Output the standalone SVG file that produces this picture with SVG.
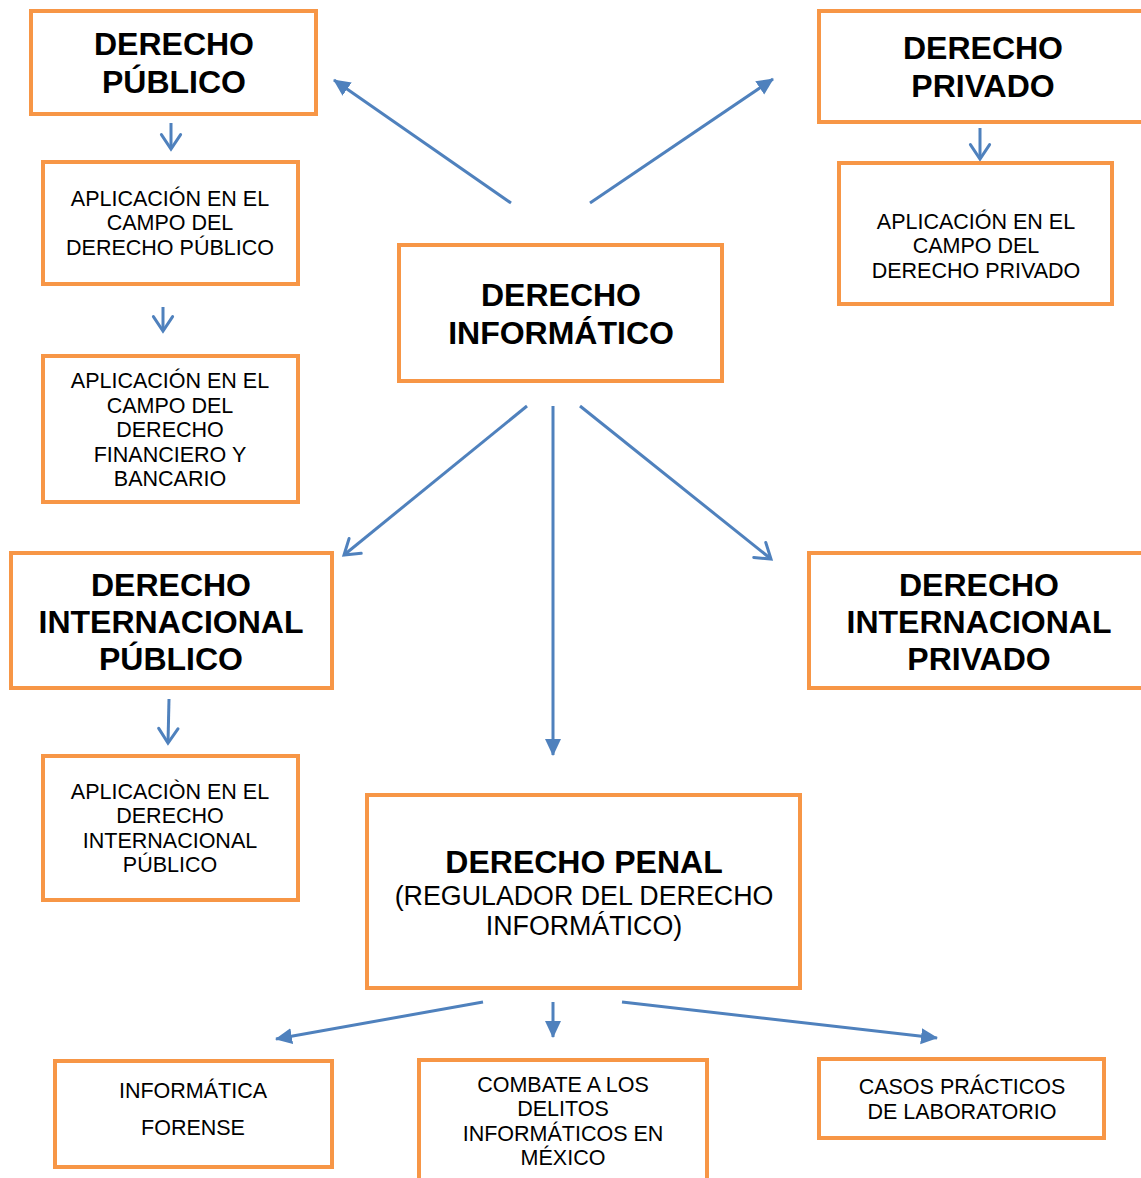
<svg xmlns="http://www.w3.org/2000/svg" width="1141" height="1178" viewBox="0 0 1141 1178">
<style>
.box{fill:#fff;stroke:#F79646;stroke-width:4}
.t{font-family:"Liberation Sans",Arial,sans-serif;text-anchor:middle;fill:#000}
.b{font-weight:bold;font-size:32px}
.s{font-size:21.5px}
.m{font-size:26.8px}
.c{fill:none;stroke:#4F81BD;stroke-width:3}
</style>
<defs>
<marker id="fa" markerUnits="userSpaceOnUse" markerWidth="20" markerHeight="20" refX="16" refY="8" orient="auto" viewBox="0 0 20 16">
<path d="M0,0 L17,8 L0,16 Z" fill="#4F81BD"/>
</marker>
<marker id="oa" markerUnits="userSpaceOnUse" markerWidth="24" markerHeight="24" refX="14" refY="10" orient="auto" viewBox="0 0 20 20">
<path d="M2,2 L14,10 L2,18" fill="none" stroke="#4F81BD" stroke-width="2.5" stroke-linecap="round"/>
</marker>
</defs>
<rect width="1141" height="1178" fill="#fff"/>
<g id="connectors">
<line class="c" x1="171" y1="123" x2="171" y2="149" marker-end="url(#oa)"/>
<line class="c" x1="163" y1="307" x2="163" y2="331" marker-end="url(#oa)"/>
<line class="c" x1="169" y1="699" x2="168" y2="743" marker-end="url(#oa)"/>
<line class="c" x1="980" y1="128" x2="980" y2="159" marker-end="url(#oa)"/>
<line class="c" x1="511" y1="203" x2="334" y2="80" marker-end="url(#fa)"/>
<line class="c" x1="590" y1="203" x2="773" y2="79" marker-end="url(#fa)"/>
<line class="c" x1="527" y1="406" x2="344" y2="555" marker-end="url(#oa)"/>
<line class="c" x1="553" y1="406" x2="553" y2="755" marker-end="url(#fa)"/>
<line class="c" x1="580" y1="406" x2="771" y2="559" marker-end="url(#oa)"/>
<line class="c" x1="483" y1="1002" x2="276" y2="1039" marker-end="url(#fa)"/>
<line class="c" x1="553" y1="1002" x2="553" y2="1037" marker-end="url(#fa)"/>
<line class="c" x1="622" y1="1002" x2="937" y2="1038" marker-end="url(#fa)"/>
</g>
<g id="derecho-publico">
<rect class="box" x="31" y="11" width="285" height="103"/>
<text class="t b" x="174" y="55">DERECHO</text>
<text class="t b" x="174" y="93">PÚBLICO</text>
</g>
<g id="aplicacion-publico">
<rect class="box" x="43" y="162" width="255" height="122"/>
<text class="t s" x="170" y="206">APLICACIÓN EN EL</text>
<text class="t s" x="170" y="230">CAMPO DEL</text>
<text class="t s" x="170" y="255">DERECHO PÚBLICO</text>
</g>
<g id="aplicacion-financiero">
<rect class="box" x="43" y="356" width="255" height="146"/>
<text class="t s" x="170" y="388">APLICACIÓN EN EL</text>
<text class="t s" x="170" y="413">CAMPO DEL</text>
<text class="t s" x="170" y="437">DERECHO</text>
<text class="t s" x="170" y="462">FINANCIERO Y</text>
<text class="t s" x="170" y="486">BANCARIO</text>
</g>
<g id="derecho-internacional-publico">
<rect class="box" x="11" y="553" width="321" height="135"/>
<text class="t b" x="171" y="596">DERECHO</text>
<text class="t b" x="171" y="633">INTERNACIONAL</text>
<text class="t b" x="171" y="670">PÚBLICO</text>
</g>
<g id="aplicacion-internacional">
<rect class="box" x="43" y="756" width="255" height="144"/>
<text class="t s" x="170" y="799">APLICACIÒN EN EL</text>
<text class="t s" x="170" y="823">DERECHO</text>
<text class="t s" x="170" y="848">INTERNACIONAL</text>
<text class="t s" x="170" y="872">PÚBLICO</text>
</g>
<g id="derecho-informatico">
<rect class="box" x="399" y="245" width="323" height="136"/>
<text class="t b" x="561" y="306">DERECHO</text>
<text class="t b" x="561" y="344">INFORMÁTICO</text>
</g>
<g id="derecho-privado">
<rect class="box" x="819" y="11" width="330" height="111"/>
<text class="t b" x="983" y="59">DERECHO</text>
<text class="t b" x="983" y="97">PRIVADO</text>
</g>
<g id="aplicacion-privado">
<rect class="box" x="839" y="163" width="273" height="141"/>
<text class="t s" x="976" y="229">APLICACIÓN EN EL</text>
<text class="t s" x="976" y="253">CAMPO DEL</text>
<text class="t s" x="976" y="278">DERECHO PRIVADO</text>
</g>
<g id="derecho-internacional-privado">
<rect class="box" x="809" y="553" width="340" height="135"/>
<text class="t b" x="979" y="596">DERECHO</text>
<text class="t b" x="979" y="633">INTERNACIONAL</text>
<text class="t b" x="979" y="670">PRIVADO</text>
</g>
<g id="derecho-penal">
<rect class="box" x="367" y="795" width="433" height="193"/>
<text class="t b" x="584" y="873">DERECHO PENAL</text>
<text class="t m" x="584" y="905">(REGULADOR DEL DERECHO</text>
<text class="t m" x="584" y="935">INFORMÁTICO)</text>
</g>
<g id="informatica-forense">
<rect class="box" x="55" y="1061" width="277" height="106"/>
<text class="t s" x="193" y="1098">INFORMÁTICA</text>
<text class="t s" x="193" y="1135">FORENSE</text>
</g>
<g id="combate">
<rect class="box" x="419" y="1060" width="288" height="125"/>
<text class="t s" x="563" y="1092">COMBATE A LOS</text>
<text class="t s" x="563" y="1116">DELITOS</text>
<text class="t s" x="563" y="1141">INFORMÁTICOS EN</text>
<text class="t s" x="563" y="1165">MÉXICO</text>
</g>
<g id="casos-practicos">
<rect class="box" x="819" y="1059" width="285" height="79"/>
<text class="t s" x="962" y="1094">CASOS PRÁCTICOS</text>
<text class="t s" x="962" y="1119">DE LABORATORIO</text>
</g>
</svg>
